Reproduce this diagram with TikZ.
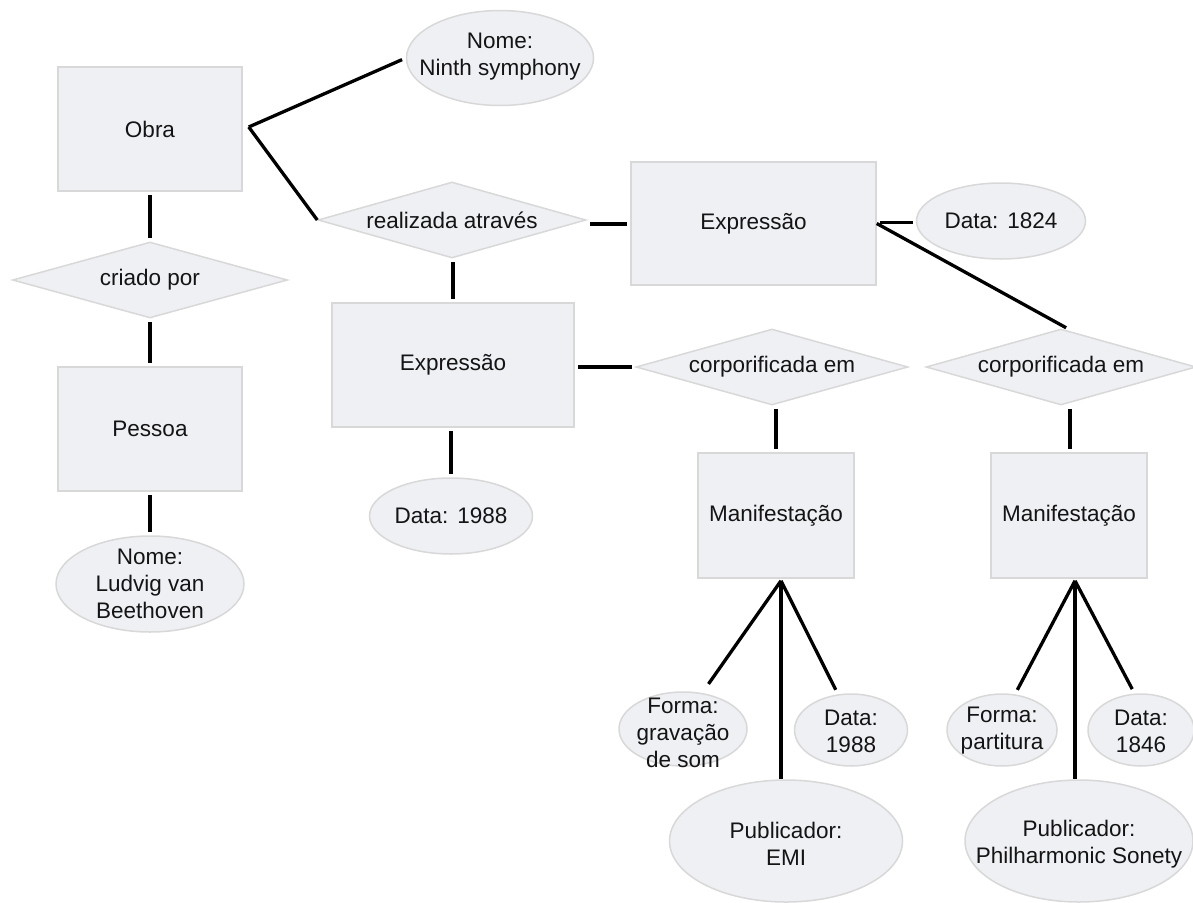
\documentclass[tikz,border=0pt]{standalone}
\usepackage{fontspec}
\setmainfont{Liberation Sans}
\usetikzlibrary{shapes.geometric,calc}
\definecolor{boxfill}{RGB}{239,240,244}
\definecolor{boxline}{RGB}{216,216,216}
\definecolor{txt}{RGB}{20,20,20}
\begin{document}
\begin{tikzpicture}[x=1pt,y=-1pt,
  ent/.style={rectangle, fill=boxfill, draw=boxline, line width=1.5pt, inner sep=0pt,
    font=\fontsize{22.5}{26}\selectfont, text=txt},
  rel/.style={diamond, shape aspect=3.6, fill=boxfill, draw=boxline, line width=1.5pt,
    inner sep=0pt, minimum height=76pt, font=\fontsize{22.5}{26}\selectfont, text=txt},
  attr/.style={ellipse, fill=boxfill, draw=boxline, line width=1.5pt, inner sep=0pt},
  lbl/.style={align=center, font=\fontsize{22.5}{27}\selectfont, text=txt, inner sep=0pt},
  link/.style={line width=3.3pt, black, shorten <=3pt, shorten >=3pt},
  bare/.style={line width=3.3pt, black}]
\useasboundingbox (0,0) rectangle (1193,902);

% entities
\node[ent, minimum width=184pt, minimum height=124pt] (obra) at (150,129) {Obra};
\node[ent, minimum width=184pt, minimum height=124pt] (pessoa) at (150,429) {Pessoa};
\node[ent, minimum width=245pt, minimum height=123pt] (expr1) at (753.5,223.5) {Expressão};
\node[ent, minimum width=242pt, minimum height=124pt] (expr2) at (453,365) {Expressão};
\node[ent, minimum width=156pt, minimum height=125pt] (man1) at (776,515.5) {Manifestação};
\node[ent, minimum width=156pt, minimum height=125pt] (man2) at (1069,515.5) {Manifestação};

% relationships
\node[rel, minimum width=275pt] (criado) at (150,280) {criado por};
\node[rel, minimum width=268pt] (real) at (452,220) {realizada através};
\node[rel, minimum width=272pt] (corp1) at (772,367) {corporificada em};
\node[rel, minimum width=270pt] (corp2) at (1061,367) {corporificada em};

% attributes
\node[attr, minimum width=187pt, minimum height=95pt] (ninth) at (500,58) {};
\node[lbl] at (500,57) {Nome:\\Ninth symphony};
\node[attr, minimum width=188pt, minimum height=96pt] (ludvig) at (150,584) {};
\node[lbl] at (150,584) {Nome:\\Ludvig van\\Beethoven};
\node[attr, minimum width=169pt, minimum height=76pt] (d1824) at (1001,221) {};
\node[lbl] at (1001,221) {Data:\hspace{0.4em}1824};
\node[attr, minimum width=163pt, minimum height=76pt] (d1988a) at (451,516) {};
\node[lbl] at (451,516) {Data:\hspace{0.4em}1988};
\node[attr, minimum width=128pt, minimum height=74pt] (forma1) at (683,729) {};
\node[lbl] at (683,733) {Forma:\\gravação\\de som};
\node[attr, minimum width=113pt, minimum height=72pt] (d1988b) at (851,730) {};
\node[lbl] at (851,731) {Data:\\1988};
\node[attr, minimum width=233pt, minimum height=122pt] (emi) at (786,841) {};
\node[lbl] at (786,844) {Publicador:\\EMI};
\node[attr, minimum width=110pt, minimum height=72pt] (forma2) at (1002,730) {};
\node[lbl] at (1002,731) {Forma:\\partitura};
\node[attr, minimum width=106pt, minimum height=72pt] (d1846) at (1141,730) {};
\node[lbl] at (1141,731) {Data:\\1846};
\node[attr, minimum width=228pt, minimum height=122pt] (phil) at (1079,841) {};
\node[lbl] at (1079,844) {Publicador:\\Philharmonic Sonety};

% connectors
\coordinate (obraJ) at ($(obra.east)+(6,-2)$);
\draw[bare, shorten >=4pt] (obraJ) -- (ninth.west);
\draw[bare] (obraJ) -- (real.west);
\draw[link] (obra.south) -- (criado.north);
\draw[link] (criado.south) -- (pessoa.north);
\draw[link] (pessoa.south) -- (ludvig.north);
\coordinate (realE) at ($(real.east)+(0,4)$);
\draw[link] (realE) -- (realE -| expr1.west);
\coordinate (realS) at ($(real.south)+(1,0)$);
\draw[link] (realS) -- (realS |- expr2.north);
\coordinate (e1E) at ($(expr1.east)+(0,-1)$);
\draw[link] (e1E) -- (e1E -| d1824.west);
\draw[bare, shorten >=1pt] (expr1.east) -- ([xshift=6pt]corp2.north);
\draw[link] (corp1.west -| expr2.east) -- (corp1.west);
\draw[link] (d1988a.north |- expr2.south) -- (d1988a.north);
\coordinate (c1S) at ($(corp1.south)+(4,0)$);
\draw[link] (c1S) -- (c1S |- man1.north);
\coordinate (c2S) at ($(corp2.south)+(9,0)$);
\draw[link] (c2S) -- (c2S |- man2.north);
\coordinate (m1s) at ($(man1.south)+(5,2)$);
\coordinate (m2s) at ($(man2.south)+(6,2)$);
\draw[bare, shorten >=11pt] (m1s) -- (forma1.62);
\draw[bare] (m1s) -- (m1s |- emi.north);
\draw[bare, shorten >=5pt] (m1s) -- (d1988b.110);
\draw[bare, shorten >=5pt] (m2s) -- (forma2.70);
\draw[bare] (m2s) -- (m2s |- phil.north);
\draw[bare, shorten >=5pt] (m2s) -- (d1846.100);
\end{tikzpicture}
\end{document}
